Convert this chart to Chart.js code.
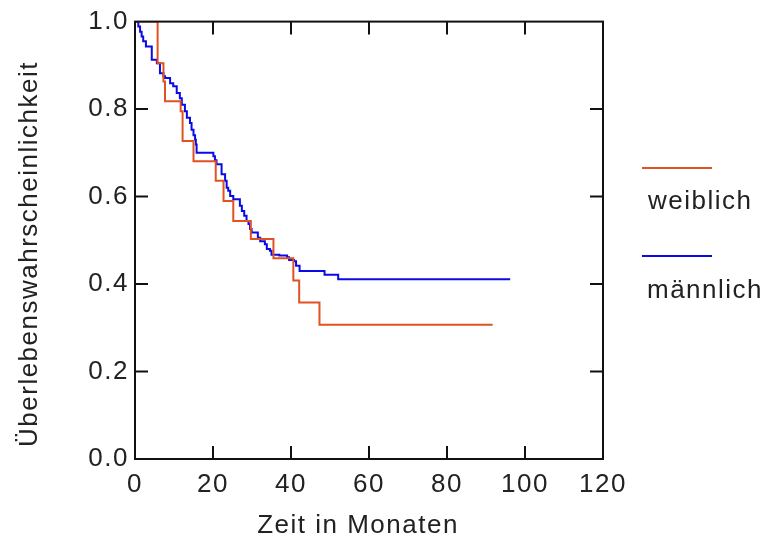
<!DOCTYPE html>
<html>
<head>
<meta charset="utf-8">
<script src="https://cdn.jsdelivr.net/npm/chart.js@4/dist/chart.umd.min.js"></script>
<style>
    html, body { margin: 0; padding: 0; background: #fff; }
    canvas { display: block; }
</style>
</head>
<body>
<canvas id="chart" width="770" height="539"></canvas>
<script>
// Kaplan-Meier Kurven
const weiblichZeit = [0, 5.8, 7.3, 7.7, 11.7, 12.2, 15.0, 20.7, 22.7, 25.2, 29.7, 35.5, 40.6, 42.1, 47.3, 91.7]
const weiblichWert = [1.0, 0.905, 0.863, 0.818, 0.795, 0.727, 0.681, 0.636, 0.59, 0.544, 0.503, 0.459, 0.408, 0.358, 0.307, 0.307]

const maennlichZeit = [0, 0.85, 1.3, 1.7, 2.1, 2.8, 4.3, 5.6, 6.4, 7.3, 7.7, 9.0, 9.8, 10.7, 11.5, 12.0, 12.8, 13.3, 14.1, 14.5, 15.0, 15.4, 15.6, 15.8,
    20.1, 20.5, 20.9, 22.2, 23.1, 23.5, 23.9, 24.4, 25.2, 26.9, 27.4, 28.0, 28.6, 29.1, 29.5, 29.9, 31.5, 32.1, 33.3, 33.8, 34.6,
    35.0, 37.0, 39.0, 39.5, 40.8, 41.3, 42.2, 48.6, 52.1, 96.2]
const maennlichWert = [1.0, 0.989, 0.977, 0.966, 0.955, 0.943, 0.913, 0.905, 0.882, 0.875, 0.871, 0.859, 0.852, 0.837, 0.825, 0.81, 0.795, 0.78, 0.768, 0.753, 0.74, 0.73, 0.719, 0.70,
    0.692, 0.683, 0.674, 0.651, 0.636, 0.62, 0.613, 0.601, 0.594, 0.579, 0.567, 0.556, 0.544, 0.537, 0.526, 0.518, 0.506, 0.498, 0.491, 0.48, 0.476,
    0.467, 0.465, 0.461, 0.455, 0.452, 0.442, 0.43, 0.421, 0.411, 0.411]

const serienNamen = ['weiblich', 'männlich']
const serienFarben = ['#e0521f', '#0a0ae6']
const xTitel = 'Zeit in Monaten'
const yTitel = 'Überlebenswahrscheinlichkeit'

const FONT = '26px "Liberation Sans", Arial, sans-serif'
const SPACING = '1.5px'

function toPoints(zeit, wert) {
    return zeit.map((t, i) => ({ x: t, y: wert[i] }))
}

// Rahmen, innere Ticks, Achsentitel und Legende
const rahmenPlugin = {
    id: 'rahmen',
    beforeDraw(chart) {
        chart.ctx.letterSpacing = SPACING
    },
    afterDraw(chart) {
        const { ctx, chartArea: a, scales } = chart
        ctx.save()
        ctx.strokeStyle = '#111'
        ctx.lineWidth = 2
        ctx.strokeRect(a.left, a.top, a.right - a.left, a.bottom - a.top)

        const len = 13
        ctx.beginPath()
        scales.x.ticks.forEach(t => {
            if (t.value <= scales.x.min || t.value >= scales.x.max) return
            const px = scales.x.getPixelForValue(t.value)
            ctx.moveTo(px, a.bottom); ctx.lineTo(px, a.bottom - len)
            ctx.moveTo(px, a.top); ctx.lineTo(px, a.top + len)
        })
        scales.y.ticks.forEach(t => {
            if (t.value <= scales.y.min || t.value >= scales.y.max) return
            const py = scales.y.getPixelForValue(t.value)
            ctx.moveTo(a.left, py); ctx.lineTo(a.left + len, py)
            ctx.moveTo(a.right, py); ctx.lineTo(a.right - len, py)
        })
        ctx.stroke()

        ctx.font = FONT
        ctx.letterSpacing = SPACING
        ctx.fillStyle = '#222'
        ctx.textAlign = 'center'
        ctx.textBaseline = 'alphabetic'
        ctx.fillText(xTitel, 358, 533)

        ctx.save()
        ctx.translate(37, 254)
        ctx.rotate(-Math.PI / 2)
        ctx.fillText(yTitel, 0, 0)
        ctx.restore()

        // Legende: Linie über dem Namen
        const legende = [{ y: 168, tx: 648, ty: 209 }, { y: 256, tx: 647, ty: 298 }]
        chart.data.datasets.forEach((ds, i) => {
            const l = legende[i]
            ctx.strokeStyle = ds.borderColor
            ctx.lineWidth = 2
            ctx.beginPath()
            ctx.moveTo(642, l.y); ctx.lineTo(712, l.y)
            ctx.stroke()
            ctx.textAlign = 'left'
            ctx.fillText(ds.label, l.tx, l.ty)
        })
        ctx.restore()
    }
}

new Chart(document.getElementById('chart'), {
    type: 'line',
    data: {
        datasets: [
            {
                label: serienNamen[0],
                data: toPoints(weiblichZeit, weiblichWert),
                borderColor: serienFarben[0],
                borderWidth: 2,
                stepped: 'before',
                pointRadius: 0,
                fill: false
            },
            {
                label: serienNamen[1],
                data: toPoints(maennlichZeit, maennlichWert),
                borderColor: serienFarben[1],
                borderWidth: 2,
                stepped: 'before',
                pointRadius: 0,
                fill: false
            }
        ]
    },
    options: {
        responsive: false,
        animation: false,
        devicePixelRatio: 1,
        layout: { padding: { left: 0, right: 167, top: 20, bottom: 0 } },
        plugins: {
            legend: { display: false },
            tooltip: { enabled: false }
        },
        scales: {
            x: {
                type: 'linear',
                min: 0,
                max: 120,
                afterFit: s => { s.height = 80 },
                grid: { display: false, drawTicks: false },
                border: { display: false },
                ticks: {
                    stepSize: 20,
                    padding: 10,
                    maxRotation: 0,
                    color: '#222',
                    font: { family: '"Liberation Sans", Arial, sans-serif', size: 26 }
                }
            },
            y: {
                min: 0,
                max: 1,
                afterFit: s => { s.width = 135 },
                grid: { display: false, drawTicks: false },
                border: { display: false },
                ticks: {
                    stepSize: 0.2,
                    padding: 6,
                    color: '#222',
                    font: { family: '"Liberation Sans", Arial, sans-serif', size: 26 },
                    callback: v => v.toFixed(1)
                }
            }
        }
    },
    plugins: [rahmenPlugin]
})
</script>
</body>
</html>
